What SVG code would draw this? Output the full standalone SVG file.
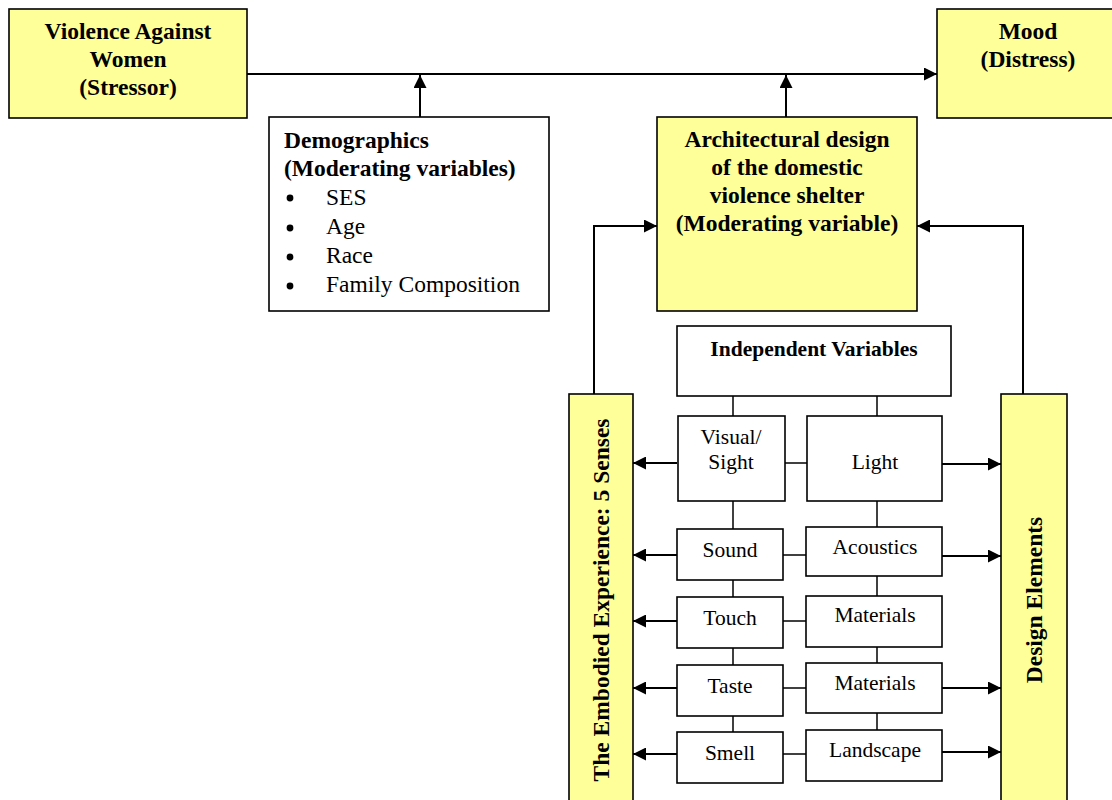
<svg xmlns="http://www.w3.org/2000/svg" width="1112" height="800" viewBox="0 0 1112 800">
<defs>
<marker id="ah" viewBox="0 0 10 10" refX="10" refY="5" markerWidth="15" markerHeight="13" markerUnits="userSpaceOnUse" orient="auto">
<path d="M0,0 L10,5 L0,10 z" fill="#000"/>
</marker>
<style>
.y{fill:#ffff99;stroke:#000;stroke-width:1.6}
.w{fill:#fff;stroke:#000;stroke-width:1.6}
.t{font-family:"Liberation Serif","Times New Roman",serif;fill:#000}
.b{font-weight:bold}
.c{stroke:#000;stroke-width:2;fill:none}
.s{stroke:#000;stroke-width:1.5;fill:none}
</style>
</defs>
<rect width="1112" height="800" fill="#fff"/>
<g id="connectors">
<line class="c" x1="247" y1="74" x2="937" y2="74" marker-end="url(#ah)"/>
<line class="c" x1="420" y1="117" x2="420" y2="75" marker-end="url(#ah)"/>
<line class="c" x1="786" y1="117" x2="786" y2="75" marker-end="url(#ah)"/>
<polyline class="c" points="594,394 594,226 657,226" marker-end="url(#ah)"/>
<polyline class="c" points="1023,394 1023,226 917,226" marker-end="url(#ah)"/>
<line class="s" x1="733" y1="396" x2="733" y2="416"/>
<line class="s" x1="877" y1="396" x2="877" y2="416"/>
<line class="s" x1="733" y1="501" x2="733" y2="529"/>
<line class="s" x1="733" y1="580" x2="733" y2="597"/>
<line class="s" x1="733" y1="648" x2="733" y2="665"/>
<line class="s" x1="733" y1="716" x2="733" y2="732"/>
<line class="s" x1="877" y1="501" x2="877" y2="527"/>
<line class="s" x1="877" y1="576" x2="877" y2="596"/>
<line class="s" x1="877" y1="647" x2="877" y2="663"/>
<line class="s" x1="877" y1="713" x2="877" y2="730"/>
<line class="s" x1="785" y1="463" x2="807" y2="463"/>
<line class="s" x1="783" y1="555" x2="806" y2="555"/>
<line class="s" x1="783" y1="621" x2="806" y2="621"/>
<line class="s" x1="783" y1="688" x2="806" y2="688"/>
<line class="s" x1="783" y1="754" x2="806" y2="754"/>
<line class="c" x1="677" y1="463" x2="633" y2="463" marker-end="url(#ah)"/>
<line class="c" x1="677" y1="555" x2="633" y2="555" marker-end="url(#ah)"/>
<line class="c" x1="677" y1="621" x2="633" y2="621" marker-end="url(#ah)"/>
<line class="c" x1="677" y1="688" x2="633" y2="688" marker-end="url(#ah)"/>
<line class="c" x1="677" y1="754" x2="633" y2="754" marker-end="url(#ah)"/>
<line class="c" x1="938" y1="464" x2="1001" y2="464" marker-end="url(#ah)"/>
<line class="c" x1="938" y1="556" x2="1001" y2="556" marker-end="url(#ah)"/>
<line class="c" x1="938" y1="688" x2="1001" y2="688" marker-end="url(#ah)"/>
<line class="c" x1="938" y1="752" x2="1001" y2="752" marker-end="url(#ah)"/>
</g>
<g id="violence">
<rect class="y" x="9" y="9" width="238" height="109"/>
<text class="t b" font-size="23.5" text-anchor="middle"><tspan x="128" y="39">Violence Against</tspan><tspan x="128" y="67">Women</tspan><tspan x="128" y="95">(Stressor)</tspan></text>
</g>
<g id="mood">
<rect class="y" x="937" y="9" width="185" height="109"/>
<text class="t b" font-size="23.5" text-anchor="middle"><tspan x="1028" y="39">Mood</tspan><tspan x="1028" y="67">(Distress)</tspan></text>
</g>
<g id="demographics">
<rect class="w" x="269" y="117" width="280" height="194"/>
<text class="t b" font-size="23.5"><tspan x="284" y="148">Demographics</tspan><tspan x="284" y="176">(Moderating variables)</tspan></text>
<g class="t" font-size="23.5">
<circle cx="290" cy="198" r="3.4"/><text x="326" y="205">SES</text>
<circle cx="290" cy="228" r="3.4"/><text x="326" y="234">Age</text>
<circle cx="290" cy="257" r="3.4"/><text x="326" y="263">Race</text>
<circle cx="290" cy="286" r="3.4"/><text x="326" y="292">Family Composition</text>
</g>
</g>
<g id="architectural">
<rect class="y" x="657" y="117" width="260" height="194"/>
<text class="t b" font-size="23.5" text-anchor="middle"><tspan x="787" y="147">Architectural design</tspan><tspan x="787" y="175">of the domestic</tspan><tspan x="787" y="203">violence shelter</tspan><tspan x="787" y="231">(Moderating variable)</tspan></text>
</g>
<g id="independent">
<rect class="w" x="677" y="326" width="274" height="70"/>
<text class="t b" font-size="21.5" text-anchor="middle" x="814" y="356">Independent Variables</text>
</g>
<g id="embodied">
<rect class="y" x="569" y="394" width="64" height="420"/>
<text class="t b" font-size="23.5" text-anchor="middle" transform="translate(609,600) rotate(-90)">The Embodied Experience: 5 Senses</text>
</g>
<g id="design-elements">
<rect class="y" x="1001" y="394" width="66" height="420"/>
<text class="t b" font-size="23.5" text-anchor="middle" transform="translate(1042,600) rotate(-90)">Design Elements</text>
</g>
<g id="visual"><rect class="w" x="678" y="416" width="107" height="85"/><text class="t" font-size="21.5" text-anchor="middle"><tspan x="731" y="444">Visual/</tspan><tspan x="731" y="469">Sight</tspan></text></g>
<g id="sound"><rect class="w" x="677" y="529" width="106" height="51"/><text class="t" font-size="21.5" text-anchor="middle" x="730" y="557">Sound</text></g>
<g id="touch"><rect class="w" x="677" y="597" width="106" height="51"/><text class="t" font-size="21.5" text-anchor="middle" x="730" y="625">Touch</text></g>
<g id="taste"><rect class="w" x="677" y="665" width="106" height="51"/><text class="t" font-size="21.5" text-anchor="middle" x="730" y="693">Taste</text></g>
<g id="smell"><rect class="w" x="677" y="732" width="106" height="51"/><text class="t" font-size="21.5" text-anchor="middle" x="730" y="760">Smell</text></g>
<g id="light"><rect class="w" x="807" y="416" width="135" height="85"/><text class="t" font-size="21.5" text-anchor="middle" x="875" y="469">Light</text></g>
<g id="acoustics"><rect class="w" x="806" y="527" width="136" height="49"/><text class="t" font-size="21.5" text-anchor="middle" x="875" y="554">Acoustics</text></g>
<g id="materials1"><rect class="w" x="806" y="596" width="136" height="51"/><text class="t" font-size="21.5" text-anchor="middle" x="875" y="622">Materials</text></g>
<g id="materials2"><rect class="w" x="806" y="663" width="136" height="50"/><text class="t" font-size="21.5" text-anchor="middle" x="875" y="690">Materials</text></g>
<g id="landscape"><rect class="w" x="806" y="730" width="136" height="51"/><text class="t" font-size="21.5" text-anchor="middle" x="875" y="757">Landscape</text></g>
</svg>
